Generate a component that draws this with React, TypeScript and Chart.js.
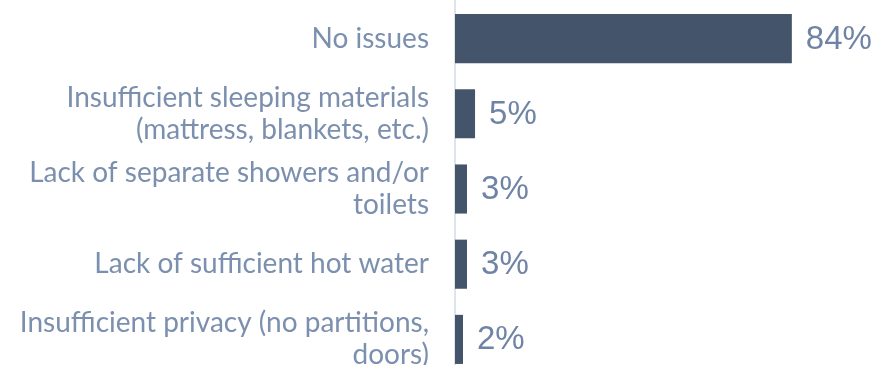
import React, { useEffect, useRef } from "react";
import { Chart, registerables } from "chart.js";

Chart.register(...registerables);

const categories: (string | string[])[] = [
  "No issues",
  ["Insufficient sleeping materials", "(mattress, blankets, etc.)"],
  ["Lack of separate showers and/or", "toilets"],
  "Lack of sufficient hot water",
  ["Insufficient privacy (no partitions,", "doors)"],
];
const values: number[] = [84, 5, 3, 3, 2];
const valueLabels: string[] = ["84%", "5%", "3%", "3%", "2%"];

const BAR_COLOR = "#44546a";
const LABEL_COLOR = "#7b8fae";
const VALUE_COLOR = "#6f84a4";

const valueLabelPlugin = {
  id: "valueLabels",
  afterDatasetsDraw(chart: any) {
    const ctx = chart.ctx;
    const meta = chart.getDatasetMeta(0);
    ctx.save();
    ctx.font = "33px 'Liberation Sans'";
    ctx.fillStyle = VALUE_COLOR;
    ctx.textAlign = "left";
    ctx.textBaseline = "middle";
    meta.data.forEach((bar: any, i: number) => {
      ctx.fillText(valueLabels[i], bar.x + 14, bar.y + 1);
    });
    ctx.restore();
  },
};

export default function App() {
  const ref = useRef<HTMLCanvasElement | null>(null);
  useEffect(() => {
    if (!ref.current) return;
    const chart = new Chart(ref.current, {
      type: "bar",
      data: {
        labels: categories,
        datasets: [
          {
            data: values,
            backgroundColor: BAR_COLOR,
            borderWidth: 0,
            categoryPercentage: 1,
            barPercentage: 0.653,
          },
        ],
      },
      options: {
        indexAxis: "y",
        responsive: false,
        animation: false,
        devicePixelRatio: 1,
        layout: { padding: { top: 1, right: 18, left: 0, bottom: 0 } },
        plugins: {
          legend: { display: false },
          tooltip: { enabled: false },
          title: { display: false },
        },
        scales: {
          x: {
            display: false,
            min: 0,
            max: 100,
          },
          y: {
            grid: { display: false, drawTicks: false },
            border: { display: true, color: "#dfe4eb", width: 2 },
            ticks: {
              color: LABEL_COLOR,
              padding: 26,
              font: { family: "Lato", size: 28, lineHeight: 1.14 },
            },
            afterFit(scale: any) {
              scale.width = 455;
              scale.paddingTop = 0;
              scale.paddingBottom = 0;
            },
          },
        },
      },
      plugins: [valueLabelPlugin],
    });
    return () => chart.destroy();
  }, []);
  return (
    <div
      style={{
        position: "fixed",
        top: 0,
        left: 0,
        width: 874,
        height: 365,
        overflow: "hidden",
        background: "#ffffff",
      }}
    >
      <canvas
        ref={ref}
        width={874}
        height={377}
        style={{ width: 874, height: 377, display: "block" }}
      />
    </div>
  );
}
